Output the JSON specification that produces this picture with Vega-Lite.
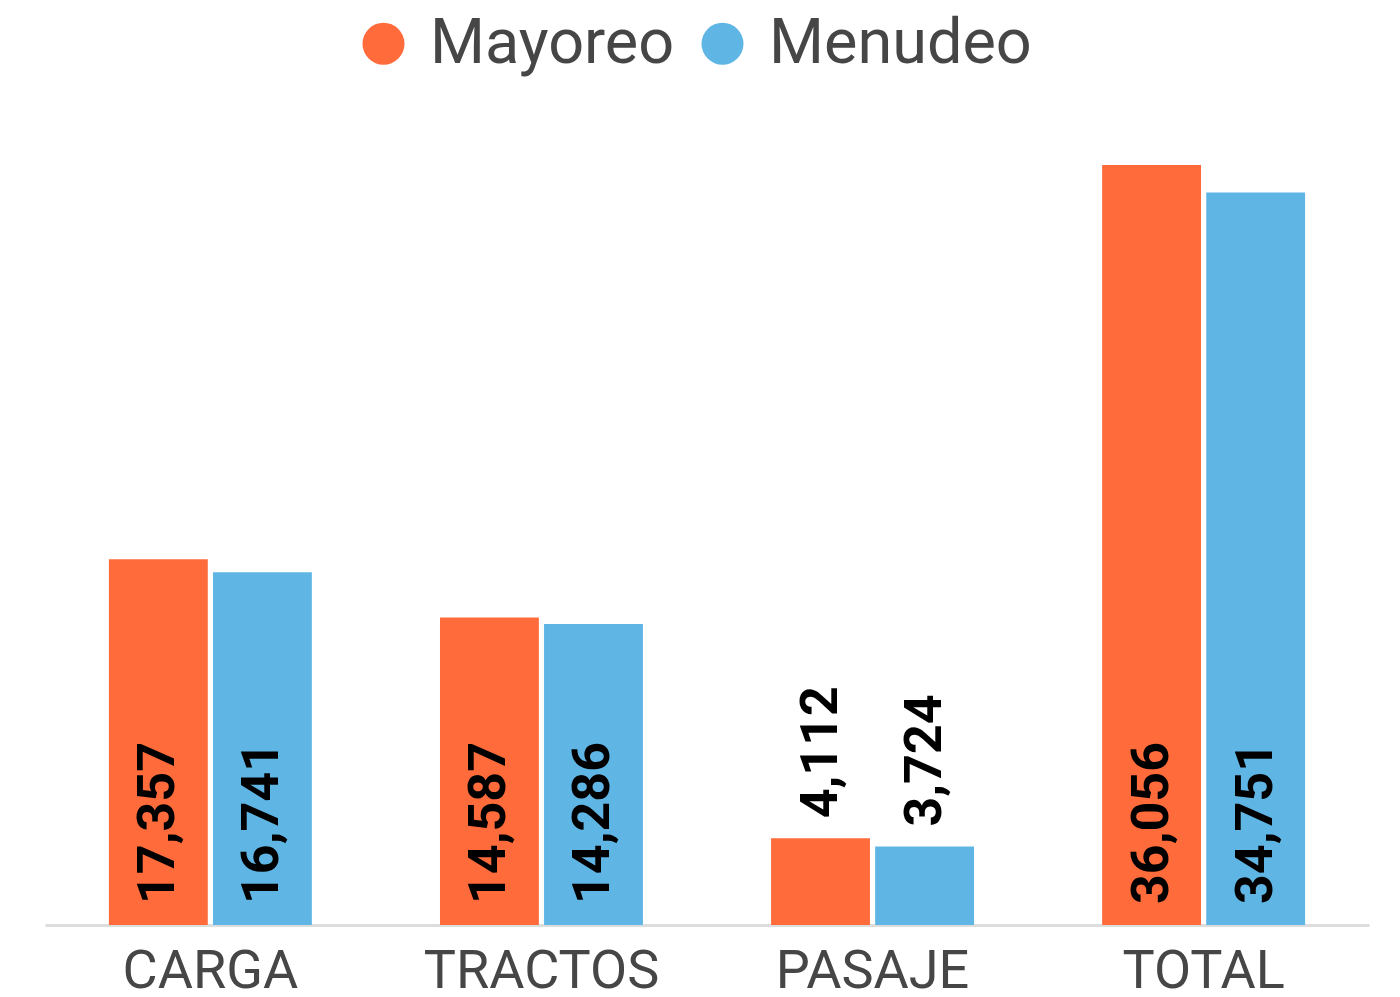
{
  "$schema": "https://vega.github.io/schema/vega-lite/v6.json",
  "width": 1324,
  "height": 843,
  "autosize": "none",
  "padding": {"left": 45, "top": 82, "right": 31, "bottom": 72},
  "background": "white",
  "config": {
    "view": {"stroke": null},
    "font": "Roboto"
  },
  "data": {
    "values": [
      {"categoria": "CARGA", "tipo": "Mayoreo", "valor": 17357},
      {"categoria": "CARGA", "tipo": "Menudeo", "valor": 16741},
      {"categoria": "TRACTOS", "tipo": "Mayoreo", "valor": 14587},
      {"categoria": "TRACTOS", "tipo": "Menudeo", "valor": 14286},
      {"categoria": "PASAJE", "tipo": "Mayoreo", "valor": 4112},
      {"categoria": "PASAJE", "tipo": "Menudeo", "valor": 3724},
      {"categoria": "TOTAL", "tipo": "Mayoreo", "valor": 36056},
      {"categoria": "TOTAL", "tipo": "Menudeo", "valor": 34751}
    ]
  },
  "encoding": {
    "x": {
      "field": "categoria",
      "type": "nominal",
      "sort": ["CARGA", "TRACTOS", "PASAJE", "TOTAL"],
      "scale": {"paddingInner": 0.387, "paddingOuter": 0.193},
      "axis": {
        "title": null,
        "labelAngle": 0,
        "labelFont": "Roboto",
        "labelFontSize": 54,
        "labelColor": "#464646",
        "labelPadding": 19,
        "labelLimit": 500,
        "ticks": false,
        "domainColor": "#dddddd",
        "domainWidth": 3,
        "grid": false
      }
    },
    "xOffset": {
      "field": "tipo",
      "type": "nominal",
      "scale": {"paddingInner": 0.05, "paddingOuter": 0}
    }
  },
  "layer": [
    {
      "mark": {"type": "bar"},
      "encoding": {
        "y": {
          "field": "valor",
          "type": "quantitative",
          "scale": {"domain": [0, 40000], "nice": false},
          "axis": null
        },
        "color": {
          "field": "tipo",
          "type": "nominal",
          "scale": {"domain": ["Mayoreo", "Menudeo"], "range": ["#FF6B3A", "#5FB6E5"]},
          "legend": {
            "title": null,
            "orient": "none",
            "direction": "horizontal",
            "legendX": 307,
            "legendY": -70,
            "padding": 0,
            "symbolType": "circle",
            "symbolSize": 1764,
            "symbolStrokeWidth": 0,
            "labelFont": "Roboto",
            "labelFontSize": 63,
            "labelColor": "#464646",
            "labelOffset": 15,
            "columnPadding": 16,
            "labelLimit": 400
          }
        }
      }
    },
    {
      "transform": [{"filter": "datum.valor >= 10000"}],
      "mark": {
        "type": "text",
        "angle": 270,
        "align": "left",
        "baseline": "middle",
        "dx": 21,
        "font": "Roboto",
        "fontWeight": "bold",
        "fontSize": 52,
        "color": "black"
      },
      "encoding": {
        "y": {"datum": 0, "type": "quantitative"},
        "text": {"field": "valor", "type": "quantitative", "format": ",d"}
      }
    },
    {
      "transform": [{"filter": "datum.valor < 10000"}],
      "mark": {
        "type": "text",
        "angle": 270,
        "align": "left",
        "baseline": "middle",
        "dx": 20,
        "font": "Roboto",
        "fontWeight": "bold",
        "fontSize": 52,
        "color": "black"
      },
      "encoding": {
        "y": {"field": "valor", "type": "quantitative"},
        "text": {"field": "valor", "type": "quantitative", "format": ",d"}
      }
    }
  ]
}
